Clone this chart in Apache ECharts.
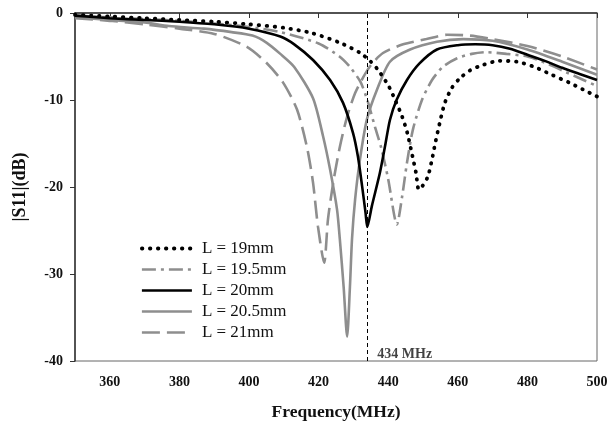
<!DOCTYPE html>
<html>
<head>
<meta charset="utf-8">
<script src="https://cdn.jsdelivr.net/npm/echarts@6/dist/echarts.min.js"></script>
<style>
  html, body { margin: 0; padding: 0; background: #fff; }
  #main { width: 613px; height: 426px; }
</style>
</head>
<body>
<div id="main"></div>
<script>
// 图例名称
var names = ['L = 19mm', 'L = 19.5mm', 'L = 20mm', 'L = 20.5mm', 'L = 21mm'];
// x 轴刻度
var xTicks = [360, 380, 400, 420, 440, 460, 480, 500];
// 434 MHz 标记
var markFreq = 434;

// [频率(MHz), |S11|(dB)]
var l19 = [[350,-0.2],[360,-0.4],[370,-0.6],[380,-0.8],[390,-1.0],[400,-1.3],[410,-1.7],[418,-2.3],[426,-3.4],[432,-4.6],[435,-5.6],[437,-6.5],[440,-8.3],[442,-10.0],[444,-11.9],[445.5,-13.8],[447,-16.5],[448,-18.4],[448.8,-20.3],[450,-19.8],[451.4,-18.8],[452.5,-17.0],[453.5,-15.0],[455,-12.3],[456.3,-10.3],[458.3,-8.6],[460.6,-7.5],[463.5,-6.6],[467,-6.0],[472,-5.5],[477,-5.6],[482,-6.2],[487,-7.1],[492,-8.0],[496,-8.8],[500,-9.6]];
var l195 = [[350,-0.3],[360,-0.5],[370,-0.7],[380,-0.9],[390,-1.2],[400,-1.6],[409,-2.2],[420,-3.5],[426,-5.0],[429,-6.2],[432,-7.9],[434,-10.0],[436.2,-13.1],[438,-15.5],[440,-19.1],[442.5,-24.3],[444,-21.1],[445.4,-17.2],[447.1,-13.4],[449.7,-10.0],[452.6,-7.7],[455.7,-6.2],[459.8,-5.2],[464,-4.7],[468,-4.5],[474,-4.7],[480,-5.0],[485,-5.7],[490,-6.6],[495,-7.5],[500,-8.4]];
var l20 = [[350,-0.3],[360,-0.6],[370,-0.8],[380,-1.0],[390,-1.3],[400,-1.8],[409,-2.7],[413,-3.6],[418.4,-5.4],[423.3,-7.7],[427,-10.3],[429.9,-13.8],[431.3,-16.5],[432.5,-19.9],[433.5,-23.0],[434,-24.6],[435.3,-22.2],[437.6,-18.4],[439.1,-15.3],[440.5,-12.3],[442.4,-10.0],[445.4,-7.7],[449,-5.8],[454,-4.2],[460,-3.7],[465,-3.6],[470,-3.7],[475,-4.1],[480,-4.8],[485,-5.5],[490,-6.3],[495,-7.0],[500,-7.7]];
var l205 = [[350,-0.5],[360,-0.8],[370,-1.1],[377,-1.5],[387,-1.8],[395,-2.2],[401,-2.6],[405,-3.4],[409,-4.7],[413,-6.2],[418.4,-9.8],[421.3,-14.2],[423.3,-18.0],[425.3,-22.6],[426.1,-26.0],[427.2,-31.5],[428.2,-37.2],[429.0,-31.5],[429.6,-26.0],[430.5,-21.4],[431.9,-16.8],[433.9,-12.2],[436.8,-8.8],[440.5,-5.6],[446.3,-4.2],[454,-3.3],[461.5,-3.0],[470,-3.2],[480,-4.2],[490,-5.6],[500,-7.1]];
var l21 = [[350,-0.6],[360,-0.9],[370,-1.3],[380,-1.8],[390,-2.4],[399.4,-3.9],[405.2,-5.8],[409.8,-8.0],[413.8,-11.1],[416.7,-15.5],[418.4,-19.5],[419.8,-24.5],[421.6,-28.7],[422.7,-23.7],[424.2,-19.5],[426.1,-15.4],[428.2,-11.9],[430.5,-9.2],[432.8,-7.4],[435,-6.0],[438.5,-4.6],[444.3,-3.6],[451,-3.0],[456.9,-2.5],[463.5,-2.6],[470,-3.0],[480,-3.8],[490,-5.0],[500,-6.5]];

var serif = 'Liberation Serif';
var gray = '#8e8e8e';

var chart = echarts.init(document.getElementById('main'));

function curve(name, data, color, type, width, cap, z) {
  return {
    name: name,
    type: 'line',
    data: data,
    symbol: 'none',
    smooth: 0.25,
    z: z,
    lineStyle: { color: color, width: width, type: type, cap: cap },
    itemStyle: { color: color }
  };
}

chart.setOption({
  backgroundColor: '#fff',
  animation: false,
  grid: {
    left: 75, right: 16, top: 13, bottom: 64,
    show: true, borderColor: '#666', borderWidth: 1
  },
  legend: {
    data: names,
    orient: 'vertical',
    left: 135,
    top: 235,
    itemWidth: 50,
    itemHeight: 14,
    itemGap: 4,
    // 图例中只画线，不画圆点
    itemStyle: { color: 'rgba(0,0,0,0)', borderColor: 'rgba(0,0,0,0)', borderWidth: 0, opacity: 0 },
    lineStyle: { width: 'inherit', type: 'inherit', cap: 'inherit' },
    textStyle: { fontFamily: serif, fontSize: 17, color: '#111', padding: [0, 0, 0, 5] }
  },
  xAxis: {
    type: 'value',
    min: 350,
    max: 500,
    name: 'Frequency(MHz)',
    nameLocation: 'middle',
    nameGap: 42,
    nameTextStyle: { fontFamily: serif, fontSize: 17.5, fontWeight: 'bold', color: '#111' },
    axisLine: { lineStyle: { color: '#333', width: 1.5 } },
    axisTick: { length: 5, lineStyle: { color: '#333' }, customValues: xTicks },
    axisLabel: { margin: 14, fontFamily: serif, fontSize: 14, fontWeight: 'bold', color: '#111', customValues: xTicks },
    splitLine: { show: false }
  },
  yAxis: {
    type: 'value',
    min: -40,
    max: 0,
    interval: 10,
    name: '|S11|(dB)',
    nameLocation: 'middle',
    nameGap: 46,
    nameRotate: 90,
    nameTextStyle: { fontFamily: serif, fontSize: 18, fontWeight: 'bold', color: '#111' },
    axisLine: { lineStyle: { color: '#333', width: 1.5 } },
    axisTick: { length: 5, lineStyle: { color: '#333' } },
    axisLabel: { margin: 12, fontFamily: serif, fontSize: 14, fontWeight: 'bold', color: '#111' },
    splitLine: { show: false }
  },
  series: [
    curve(names[0], l19, '#000', [0.5, 7.5], 3.8, 'round', 6),
    curve(names[1], l195, gray, [14, 5, 3, 5], 2.6, 'butt', 3),
    curve(names[2], l20, '#000', 'solid', 2.6, 'butt', 5),
    curve(names[3], l205, gray, 'solid', 2.6, 'butt', 2),
    curve(names[4], l21, gray, [18, 7], 2.6, 'butt', 2),
    {
      name: 'mark',
      type: 'scatter',
      data: [[markFreq, -39.2]],
      symbolSize: 0,
      silent: true,
      label: {
        show: true,
        position: 'right',
        distance: 10,
        formatter: markFreq + ' MHz',
        fontFamily: serif,
        fontSize: 14,
        fontWeight: 'bold',
        color: '#111'
      },
      markLine: {
        silent: true,
        symbol: 'none',
        label: { show: false },
        lineStyle: { color: '#000', width: 1, type: [4, 3] },
        data: [{ xAxis: markFreq }]
      }
    }
  ]
});
</script>
</body>
</html>
